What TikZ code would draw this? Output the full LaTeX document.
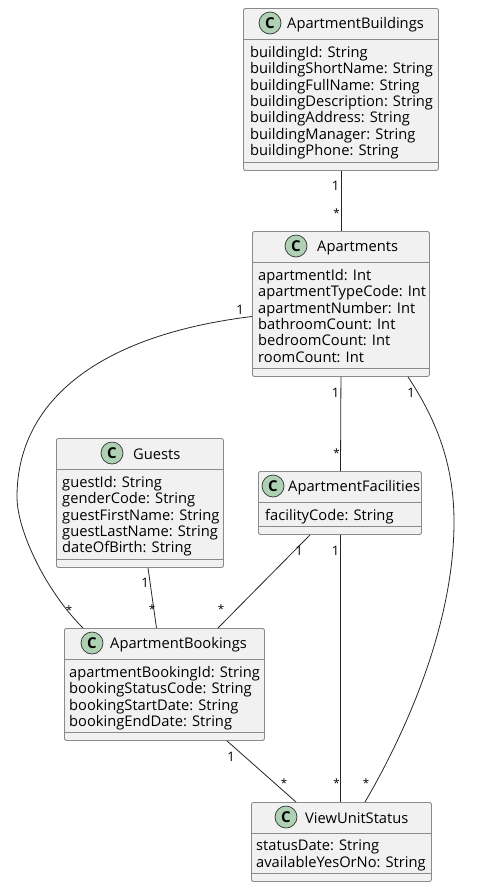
\documentclass[tikz,border=0pt]{standalone}
\usepackage{fontspec}
\setmainfont{Open Sans}
\usepackage{xcolor}
\definecolor{boxfill}{HTML}{F1F1F1}
\definecolor{boxline}{HTML}{8A8A8A}
\definecolor{spotfill}{HTML}{ADD1B2}
\tikzset{
  classbox/.style={draw=boxline, fill=boxfill, line width=0.9pt, rounded corners=2pt, inner sep=0pt, anchor=north west},
  spotmark/.style={circle, draw=black!80, fill=spotfill, line width=0.7pt, minimum size=22pt, inner sep=0pt, font=\fontsize{15}{15}\selectfont\bfseries},
  titletext/.style={anchor=west, inner sep=0pt, font=\fontsize{14.7}{16}\selectfont},
  attrtext/.style={anchor=north west, inner sep=0pt, align=left, font=\fontsize{14.7}{16.4}\selectfont},
  multlabel/.style={inner sep=0pt, font=\fontsize{13}{14}\selectfont},
  starlabel/.style={inner sep=0pt, font=\fontsize{11.5}{14}\selectfont},
  assoc/.style={draw=black!85, line width=0.8pt}
}
\begin{document}
\begin{tikzpicture}[x=1pt, y=-1pt]
  \useasboundingbox (0,0) rectangle (490,887);
  % boxes
  \node[classbox, minimum width=195pt, minimum height=162pt] (buildings) at (243,8) {};
  \node[classbox, minimum width=177pt, minimum height=145pt] (apartments) at (252,231) {};
  \node[classbox, minimum width=167pt, minimum height=129pt] (guests) at (56,438) {};
  \node[classbox, minimum width=163pt, minimum height=63pt] (facilities) at (258,471) {};
  \node[classbox, minimum width=200pt, minimum height=112pt] (bookings) at (64,628) {};
  \node[classbox, minimum width=180pt, minimum height=79pt] (status) at (251,802) {};
  \foreach \b in {buildings,apartments,guests,facilities,bookings,status} {
    \draw[boxline, line width=0.9pt] ([yshift=-31pt]\b.north west) -- ([yshift=-31pt]\b.north east);
    \draw[boxline, line width=0.9pt] ([yshift=8pt]\b.south west) -- ([yshift=8pt]\b.south east);
  }
  % spots
  \node[spotmark] (spotA) at (270,23) {C};
  \node[spotmark] (spotB) at (296,246) {C};
  \node[spotmark] (spotC) at (112,453) {C};
  \node[spotmark] (spotD) at (273,486) {C};
  \node[spotmark] (spotE) at (92,643) {C};
  \node[spotmark] (spotF) at (286,817) {C};
  % titles
  \node[titletext] (titleA) at (287,24.5) {ApartmentBuildings};
  \node[titletext] (titleB) at (317,247.5) {Apartments};
  \node[titletext] (titleC) at (133,454.5) {Guests};
  \node[titletext] (titleD) at (288,487.5) {ApartmentFacilities};
  \node[titletext] (titleE) at (110,644.5) {ApartmentBookings};
  \node[titletext] (titleF) at (305,818.5) {ViewUnitStatus};
  % attributes
  \node[attrtext] (attrA) at (250,46) {buildingId: String\\buildingShortName: String\\buildingFullName: String\\buildingDescription: String\\buildingAddress: String\\buildingManager: String\\buildingPhone: String};
  \node[attrtext] (attrB) at (258,269) {apartmentId: Int\\apartmentTypeCode: Int\\apartmentNumber: Int\\bathroomCount: Int\\bedroomCount: Int\\roomCount: Int};
  \node[attrtext] (attrC) at (62,476) {guestId: String\\genderCode: String\\guestFirstName: String\\guestLastName: String\\dateOfBirth: String};
  \node[attrtext] (attrD) at (265,509) {facilityCode: String};
  \node[attrtext] (attrE) at (69,666) {apartmentBookingId: String\\bookingStatusCode: String\\bookingStartDate: String\\bookingEndDate: String};
  \node[attrtext] (attrF) at (256,840) {statusDate: String\\availableYesOrNo: String};
  % links
  \coordinate (leftbulge) at (17,497);
  \coordinate (rightbulge) at (454,522);
  \draw[assoc] (buildings) -- (apartments);
  \draw[assoc] (apartments.south) -- ([xshift=82.5pt]facilities.north west);
  \draw[assoc] ([yshift=-85.5pt]apartments.north west) .. controls (100,335) and (17,400) .. (leftbulge) .. controls (17,530) and (45,590) .. ([xshift=19pt]bookings.north west);
  \draw[assoc] ([xshift=156pt]apartments.south west) .. controls (440,425) and (454,470) .. (rightbulge) .. controls (454,620) and (410,725) .. ([xshift=114pt]status.north west);
  \draw[assoc] ([xshift=92pt]guests.south west) -- ([xshift=92.5pt]bookings.north west);
  \draw[assoc] ([xshift=52pt]facilities.south west) -- ([xshift=154pt]bookings.north west);
  \draw[assoc] ([xshift=82.5pt]facilities.south west) -- ([xshift=89.5pt]status.north west);
  \draw[assoc] ([xshift=163pt]bookings.south west) -- ([xshift=45pt]status.north west);
  % multiplicities
  \node[multlabel] (m1) at (335.5,186) {1};
  \node[starlabel] (m2) at (336.5,213) {*};
  \node[multlabel] (m3) at (240,310) {1};
  \node[starlabel] (m4) at (69,610) {*};
  \node[multlabel] (m5) at (335.5,393) {1};
  \node[starlabel] (m6) at (336.5,453) {*};
  \node[multlabel] (m7) at (411,393) {1};
  \node[starlabel] (m8) at (366,783) {*};
  \node[multlabel] (m9) at (145,583) {1};
  \node[starlabel] (m10) at (152,609) {*};
  \node[multlabel] (m11) at (299,551) {1};
  \node[starlabel] (m12) at (221,609) {*};
  \node[multlabel] (m13) at (335.5,551) {1};
  \node[starlabel] (m14) at (336.5,783) {*};
  \node[multlabel] (m15) at (231,757) {1};
  \node[starlabel] (m16) at (284,783) {*};
\end{tikzpicture}
\end{document}
